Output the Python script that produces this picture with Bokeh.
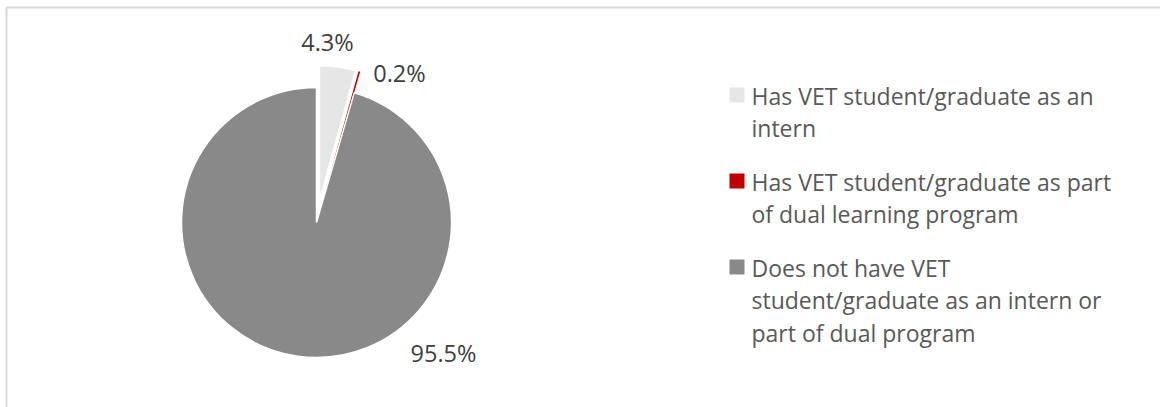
import numpy as np
from bokeh.plotting import figure
from bokeh.models import Range1d
from bokeh.embed import file_html
from bokeh.resources import INLINE
from bokeh.core.properties import value

# ---- data ----
categories = [
    "Has VET student/graduate as an intern",
    "Has VET student/graduate as part of dual learning program",
    "Does not have VET student/graduate as an intern or part of dual program",
]
legend_lines = [
    ["Has VET student/graduate as an", "intern"],
    ["Has VET student/graduate as part", "of dual learning program"],
    ["Does not have VET", "student/graduate as an intern or", "part of dual program"],
]
shares = [4.3, 0.2, 95.5]
pct_labels = ["4.3%", "0.2%", "95.5%"]

# ---- style / layout ----
colors = ["#E6E6E6", "#C00000", "#898989"]
edge_colors = ["white", None, "white"]
explode = [22, 22, 0]
label_offsets = [(11, 181), (83, 150), (127, -130)]  # px from pie centre (x right, y up)

W, H = 1160, 407
cx, cy = 316, H - 222
R = 135
FONT = "Open Sans"

p = figure(width=W, height=H, output_backend="svg", toolbar_location=None,
           x_range=Range1d(0, W), y_range=Range1d(0, H), min_border=0)
p.axis.visible = False
p.grid.visible = False
p.outline_line_color = None
p.background_fill_color = "white"
p.border_fill_color = "white"

# chart area border (left and top edges visible)
p.line(x=[6, 6, W + 10], y=[-10, H - 7, H - 7], line_color="#D9D9D9", line_width=2)

# pie slices, clockwise from 12 o'clock
fr = np.array(shares) / sum(shares)
cum = np.concatenate([[0], np.cumsum(fr)]) * 2 * np.pi
for i in range(len(shares)):
    a0, a1 = cum[i], cum[i + 1]
    mid = (a0 + a1) / 2
    ox, oy = explode[i] * np.sin(mid), explode[i] * np.cos(mid)
    p.wedge(x=cx + ox, y=cy + oy, radius=R,
            start_angle=np.pi / 2 - a0, end_angle=np.pi / 2 - a1, direction="clock",
            fill_color=colors[i], line_color=edge_colors[i], line_width=1.5)

# data labels
for i, lab in enumerate(pct_labels):
    dx, dy = label_offsets[i]
    p.text(x=[cx + dx], y=[cy + dy], text=[lab], text_font=value(FONT),
           text_font_size="23.5px", text_color="#404040",
           text_align="center", text_baseline="middle")

# legend
lx_sw, lx_txt = 736.5, 751
line_h = 32.5
entry_gap = 21
y = H - 95
for i, lines in enumerate(legend_lines):
    p.rect(x=[lx_sw], y=[y + 0.5], width=15, height=15, fill_color=colors[i], line_color=None)
    for j, t in enumerate(lines):
        p.text(x=[lx_txt], y=[y - j * line_h], text=[t], text_font=value(FONT),
               text_font_size="23px", text_color="#595959",
               text_align="left", text_baseline="middle")
    y -= len(lines) * line_h + entry_gap

open("out.html", "w").write(file_html(p, INLINE))
